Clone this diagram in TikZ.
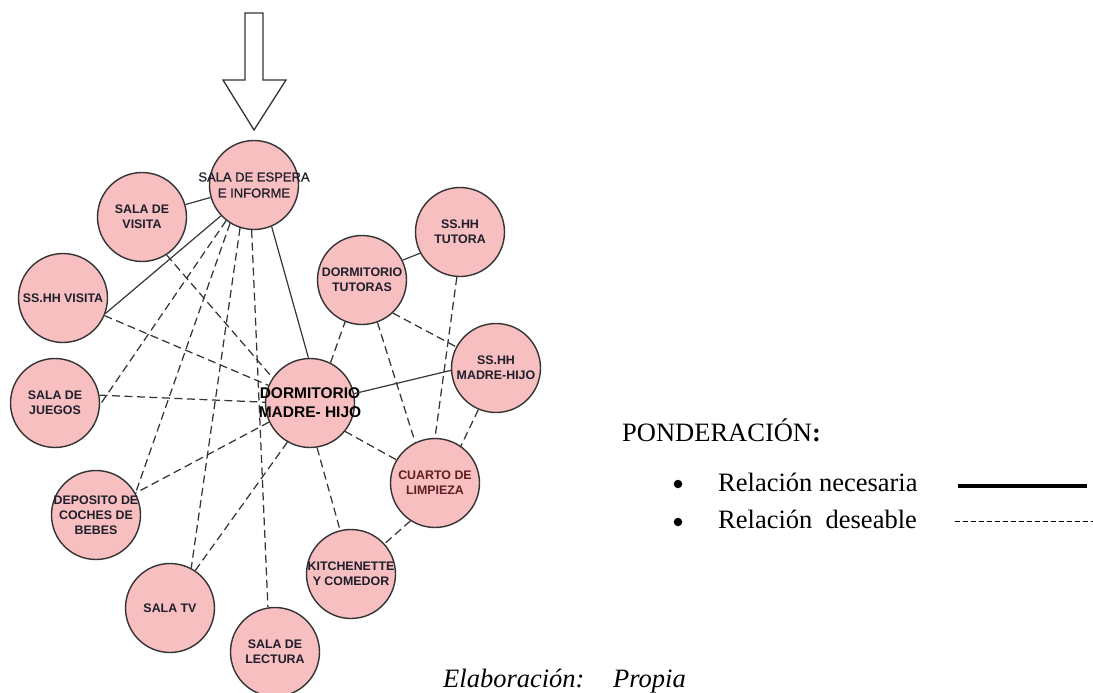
\documentclass[tikz,border=0pt]{standalone}
\usepackage{fontspec}
\setmainfont{Liberation Serif}
\newfontfamily\arialf{Liberation Sans}
\newfontfamily\arialmed[FakeBold=0.9]{Liberation Sans}
\newcommand\zw[1]{\makebox[0pt]{#1}}
\definecolor{pinkfill}{HTML}{F7BFC0}
\definecolor{circ}{HTML}{333333}
\definecolor{edgec}{HTML}{363636}
\definecolor{labtext}{HTML}{1E1E2C}
\definecolor{maroon}{HTML}{5E1E22}
\tikzset{
  room/.style={circle, draw=circ, line width=1.4pt, fill=pinkfill, minimum size=89pt,
    inner sep=0pt, align=center, text=labtext,
    font=\arialf\bfseries\fontsize{12.4}{15}\selectfont},
  need/.style={draw=edgec, line width=1.2pt},
  want/.style={draw=edgec, line width=1.25pt, dash pattern=on 8pt off 4.5pt},
  legtxt/.style={font=\fontsize{26.5}{30}\selectfont, inner sep=0pt, anchor=base west},
  dot/.style={circle, fill=black, inner sep=0pt, minimum size=8.5pt},
  inlet/.style={draw=circ, line width=1.3pt, fill=white, line join=miter}
}
\begin{document}
\begin{tikzpicture}[x=1pt,y=-1pt]
\useasboundingbox (0,0) rectangle (1093,693);
% entrance arrow
\draw[inlet] (245,13) -- (263,13) -- (263,80) -- (286,80) -- (254,130) -- (223,80) -- (245,80) -- cycle;
% rooms
\node[room, font=\arialmed\fontsize{13}{16}\selectfont] (E) at (254,185) {\zw{SALA DE ESPERA}\\\zw{E INFORME}};
\node[room] (V) at (142,217) {\zw{SALA DE}\\\zw{VISITA}};
\node[room] (SV) at (63,298) {\zw{SS.HH VISITA}};
\node[room] (J) at (55,403) {\zw{SALA DE}\\\zw{JUEGOS}};
\node[room, text=black, font=\arialf\bfseries\fontsize{15.5}{19}\selectfont] (D) at (310,403) {\zw{DORMITORIO}\\\zw{MADRE- HIJO}};
\node[room] (T) at (362,280) {\zw{DORMITORIO}\\\zw{TUTORAS}};
\node[room] (ST) at (460,232) {\zw{SS.HH}\\\zw{TUTORA}};
\node[room] (SM) at (496,368) {\zw{SS.HH}\\\zw{MADRE-HIJO}};
\node[room, text=maroon] (C) at (435,483) {\zw{CUARTO DE}\\\zw{LIMPIEZA}};
\node[room] (K) at (351,574) {\zw{KITCHENETTE}\\\zw{Y COMEDOR}};
\node[room] (B) at (96,515) {\zw{DEPOSITO DE}\\\zw{COCHES DE}\\\zw{BEBES}};
\node[room] (TV) at (170,608) {\zw{SALA TV}};
\node[room] (L) at (275,652) {\zw{SALA DE}\\\zw{LECTURA}};
% necessary relations
\draw[need] (E.196) -- (V.16);
\draw[need] (E.223) -- (SV.-20);
\draw[need] (E.293) -- (D.92);
\draw[need] (T.26) -- (ST.208);
\draw[need] (D.12) -- (SM.183);
% desirable relations
\draw[want] (E.232) -- (J.-2);
\draw[want] (E.238) -- (B.29);
\draw[want] (E.252) -- (TV.62);
\draw[want] (E.267) -- (L.99);
\draw[want] (V.-57) -- (D.146);
\draw[want] (SV.-23) -- (D.157);
\draw[want] (J.10) -- (D.179);
\draw[want] (D.205) -- (B.29);
\draw[want] (D.240) -- (TV.56);
\draw[want] (D.-81) -- (K.104);
\draw[want] (D.-39) -- (C.149);
\draw[want] (D.63) -- (T.248);
\draw[want] (T.-47) -- (SM.152);
\draw[want] (T.-70) -- (C.116);
\draw[want] (ST.266) -- (C.90);
\draw[want] (SM.247) -- (C.55);
\draw[want] (C.237) -- (K.42);
% legend
\node[legtxt] (pond) at (622,441) {PONDERACIÓN\textbf{:}};
\node[dot] (b1) at (678,484) {};
\node[dot] (b2) at (678,522) {};
\node[legtxt] (nec) at (718,491) {Relación necesaria};
\node[legtxt] (des) at (718,528) {Relación\ \ deseable};
\coordinate (s1) at (958,486);
\coordinate (s2) at (1087,486);
\coordinate (d1) at (955,521);
\coordinate (d2) at (1093,521);
\draw[line width=3.6pt, black] (s1) -- (s2);
\draw[line width=1pt, black, dash pattern=on 5pt off 3pt] (d1) -- (d2);
\node[legtxt, font=\itshape\fontsize{26.5}{30}\selectfont] (ela) at (443,687) {Elaboración:};
\node[legtxt, font=\itshape\fontsize{26.5}{30}\selectfont] (pro) at (613,687) {Propia};
\end{tikzpicture}
\end{document}
